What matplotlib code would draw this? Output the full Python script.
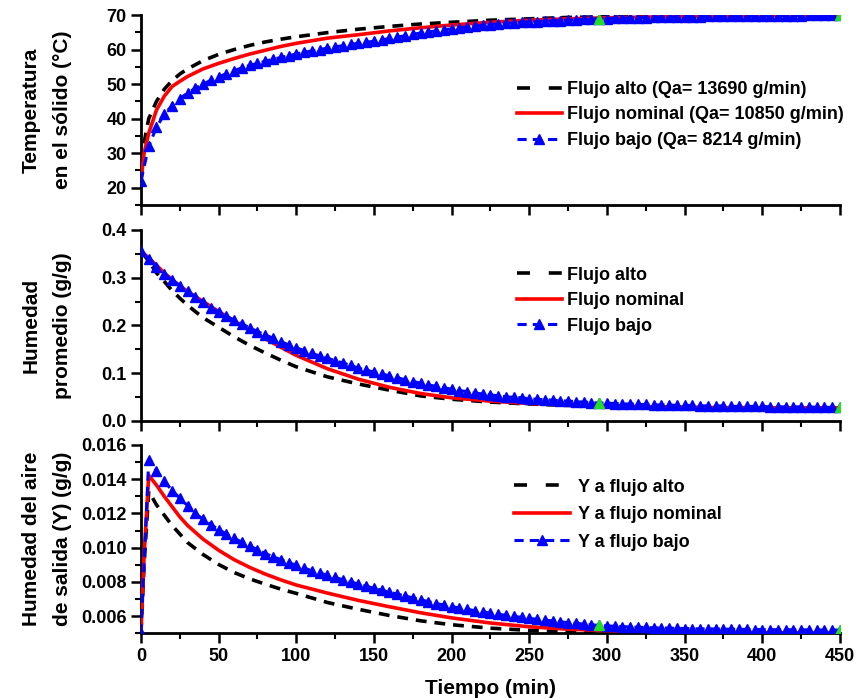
import numpy as np
import matplotlib
matplotlib.use("Agg")
import matplotlib.pyplot as plt
from matplotlib.lines import Line2D
from matplotlib.ticker import MultipleLocator, FormatStrFormatter

plt.rcParams['font.family'] = ['Liberation Sans', 'DejaVu Sans']
plt.rcParams['font.weight'] = 'bold'

# --- Data ---
# time grid of the low-flow series (one marker every 5 min)
t_bajo = np.arange(0, 455, 5)
# time grid used for the two continuous curves
t_linea = [0, 2, 5, 10, 15, 20, 25, 30, 40, 50, 60, 70, 80, 90, 100, 120, 140,
           160, 180, 200, 225, 250, 275, 300, 350, 400, 450]

# panel 1: solid temperature (C)
temp_alto = [22, 33, 40, 45, 48.5, 51, 52.9, 54.4, 56.8, 58.6, 60.0, 61.2, 62.2, 63.0,
             63.7, 64.9, 65.9, 66.7, 67.4, 67.9, 68.5, 68.9, 69.3, 69.5, 69.8, 69.95, 70.0]
temp_nominal = [22, 30, 35.8, 42.5, 46.5, 49.3, 50.8, 52.2, 54.4, 56.0, 57.4, 58.7, 59.8,
                60.9, 61.8, 63.3, 64.3, 65.4, 66.3, 67.1, 67.9, 68.5, 68.9, 69.2, 69.6,
                69.85, 70.0]
temp_bajo = [22.0, 32.0, 37.5, 41.2, 43.8, 45.8, 47.4, 48.8, 50.0, 51.1, 52.1, 53.0, 53.9,
             54.7, 55.4, 56.0, 56.6, 57.2, 57.7, 58.2, 58.7, 59.2, 59.6, 60.0, 60.4, 60.8,
             61.1, 61.5, 61.8, 62.1, 62.4, 62.8, 63.2, 63.6, 64.0, 64.4, 64.8, 65.1, 65.4,
             65.7, 66.0, 66.3, 66.5, 66.8, 67.0, 67.2, 67.4, 67.6, 67.7, 67.9, 68.0, 68.1,
             68.2, 68.3, 68.4, 68.5, 68.6, 68.7, 68.8, 68.9, 68.95, 69.0, 69.1, 69.15, 69.2,
             69.25, 69.3, 69.35, 69.4, 69.45, 69.5, 69.5, 69.55, 69.6, 69.6, 69.65, 69.65,
             69.7, 69.7, 69.75, 69.75, 69.8, 69.8, 69.8, 69.85, 69.85, 69.9, 69.9, 69.9,
             69.95, 69.95]

# panel 2: average moisture (g/g)
hum_alto = [.355, .347, .335, .310, .292, .273, .257, .242, .216, .196, .176, .158, .142,
            .127, .113, .092, .077, .064, .052, .045, .039, .035, .032, .030, .028, .027, .027]
hum_nominal = [.355, .350, .341, .326, .310, .296, .283, .271, .250, .229, .209, .190, .172,
               .154, .137, .109, .087, .070, .057, .048, .041, .036, .033, .031, .028, .027, .027]
hum_bajo = [.355, .339, .322, .308, .295, .283, .271, .259, .248, .237, .228, .219, .211,
            .203, .195, .187, .180, .173, .166, .159, .153, .147, .141, .136, .131, .126,
            .121, .116, .110, .106, .102, .098, .094, .090, .086, .082, .079, .075, .072,
            .069, .066, .063, .061, .058, .056, .054, .052, .050, .049, .048, .046, .045,
            .044, .043, .042, .041, .040, .039, .038, .037, .037, .036, .035, .035, .034,
            .034, .033, .033, .033, .032, .032, .032, .031, .031, .031, .031, .030, .030,
            .030, .030, .030, .029, .029, .029, .029, .029, .029, .028, .028, .028, .028]

# panel 3: outlet air humidity Y (g/g)
y_alto = [.0050, .0090, .01330, .01250, .01190, .01130, .01080, .01030, .00960, .00902,
          .00855, .00818, .00787, .00758, .00733, .00680, .00640, .00604, .00573, .00550,
          .00530, .00517, .00509, .00505, .00502, .00501, .00500]
y_nominal = [.0050, .0095, .01423, .01365, .01300, .01240, .01180, .01130, .01050, .00985,
             .00930, .00885, .00846, .00812, .00782, .00735, .00692, .00655, .00620, .00590,
             .00560, .00538, .00524, .00515, .00507, .00503, .00502]
y_bajo = [.00500, .01510, .01450, .01390, .01334, .01290, .01246, .01200, .01166, .01135,
          .01106, .01080, .01055, .01032, .01010, .00988, .00966, .00948, .00930, .00913,
          .00897, .00881, .00865, .00852, .00839, .00826, .00813, .00800, .00787, .00775,
          .00763, .00751, .00740, .00729, .00718, .00707, .00696, .00685, .00674, .00665,
          .00656, .00648, .00640, .00632, .00625, .00618, .00611, .00605, .00599, .00593,
          .00587, .00582, .00577, .00572, .00567, .00562, .00558, .00554, .00550, .00546,
          .00543, .00541, .00539, .00537, .00535, .00534, .00532, .00531, .00530, .00529,
          .00528, .00527, .00526, .00526, .00525, .00524, .00524, .00523, .00523, .00522,
          .00522, .00521, .00521, .00521, .00520, .00520, .00520, .00519, .00519, .00519,
          .00519]

# green markers seen at these times
t_verde = [295, 450]

etiquetas_1 = ["Flujo alto (Qa= 13690 g/min)", "Flujo nominal (Qa= 10850 g/min)",
               "Flujo bajo (Qa= 8214 g/min)"]
etiquetas_2 = ["Flujo alto", "Flujo nominal", "Flujo bajo"]
etiquetas_3 = ["Y a flujo alto", "Y a flujo nominal", "Y a flujo bajo"]

ylabels = ["Temperatura\nen el sólido (°C)", "Humedad\npromedio (g/g)",
           "Humedad del aire\nde salida (Y) (g/g)"]

# --- Figure ---
fig = plt.figure(figsize=(8.59, 6.98), dpi=100)
left, width = 0.1641, 0.8137
ax1 = fig.add_axes([left, 0.7063, width, 0.2722])
ax2 = fig.add_axes([left, 0.3973, width, 0.2732])
ax3 = fig.add_axes([left, 0.0927, width, 0.2698])

panels = [
    (ax1, temp_alto, temp_nominal, temp_bajo, etiquetas_1, (15, 70), 10, 5, "%d"),
    (ax2, hum_alto, hum_nominal, hum_bajo, etiquetas_2, (0, 0.4), 0.1, 0.05, "%.1f"),
    (ax3, y_alto, y_nominal, y_bajo, etiquetas_3, (0.005, 0.016), 0.002, 0.001, "%.3f"),
]

handles = {}
for i, (ax, alto, nominal, bajo, labels, ylim, major, minor, fmt) in enumerate(panels):
    ax.plot(t_linea, alto, color='black', linestyle=(0, (3, 2.2)), linewidth=2.6, zorder=3)
    l_nom, = ax.plot(t_linea, nominal, color='red', linestyle='-', linewidth=2.6, zorder=4)
    l_bajo, = ax.plot(t_bajo, bajo, color='blue', linestyle=(0, (3, 2)), linewidth=2.2,
                      marker='^', markersize=6.5, zorder=5)
    idx = [list(t_bajo).index(t) for t in t_verde]
    ax.plot(t_verde, [bajo[k] for k in idx], linestyle='none', marker='^',
            markersize=6.5, color='#22dd22', zorder=6)
    # legend proxy for the black dashes (wider gap like the original legend)
    l_alto = Line2D([], [], color='black', linestyle=(0, (3.6, 5.2)), linewidth=2.6)
    handles[ax] = [l_alto, l_nom, l_bajo]

    ax.set_xlim(0, 450)
    ax.set_ylim(*ylim)
    ax.xaxis.set_major_locator(MultipleLocator(50))
    ax.xaxis.set_minor_locator(MultipleLocator(25))
    ax.yaxis.set_major_locator(MultipleLocator(major))
    ax.yaxis.set_minor_locator(MultipleLocator(minor))
    ax.yaxis.set_major_formatter(FormatStrFormatter(fmt))

    for side in ['top', 'right']:
        ax.spines[side].set_visible(False)
    for side in ['left', 'bottom']:
        ax.spines[side].set_linewidth(2)
    ax.tick_params(which='major', direction='out', length=7, width=1.8, labelsize=13)
    ax.tick_params(which='minor', direction='out', length=4, width=1.5)
    if i < 2:
        ax.tick_params(axis='x', labelbottom=False)

    ax.set_ylabel(ylabels[i], fontsize=15, fontweight='bold', linespacing=1.8)
    ax.yaxis.set_label_coords(-0.099, 0.5)

# --- Legends ---
ax1.legend(handles[ax1], etiquetas_1, loc='upper left', bbox_to_anchor=(0.527, 0.691),
           frameon=False, fontsize=13, handlelength=2.5, handletextpad=0.28,
           labelspacing=0.47, numpoints=1, borderaxespad=0)
ax2.legend(handles[ax2], etiquetas_2, loc='upper left', bbox_to_anchor=(0.527, 0.845),
           frameon=False, fontsize=13, handlelength=2.5, handletextpad=0.28,
           labelspacing=0.47, numpoints=1, borderaxespad=0)
ax3.legend(handles[ax3], etiquetas_3, loc='upper left', bbox_to_anchor=(0.524, 0.859),
           frameon=False, fontsize=13, handlelength=3.05, handletextpad=0.45,
           labelspacing=0.58, numpoints=1, borderaxespad=0)

ax3.set_xlabel("Tiempo (min)", fontsize=15, fontweight='bold', labelpad=10)

fig.savefig("out.png", dpi=100)
